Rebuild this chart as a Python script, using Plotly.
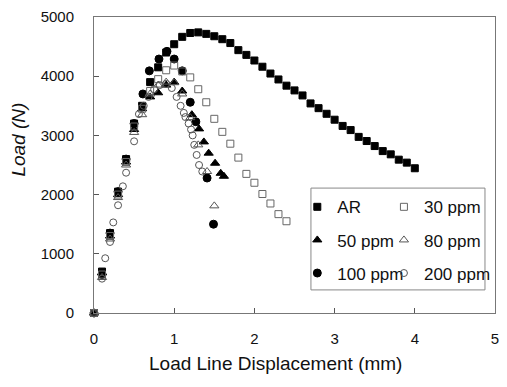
import plotly.graph_objects as go

# ---- data (Load Line Displacement in mm, Load in N) ----
ar_x = [0, 0.1, 0.2, 0.3, 0.4, 0.5, 0.6, 0.7, 0.8, 0.9, 1.0, 1.1, 1.2, 1.3, 1.4, 1.5, 1.6, 1.7, 1.8, 1.9,
        2.0, 2.1, 2.2, 2.3, 2.4, 2.5, 2.6, 2.7, 2.8, 2.9, 3.0, 3.1, 3.2, 3.3, 3.4, 3.5, 3.6, 3.7, 3.8, 3.9, 4.0]
ar_y = [0, 700, 1350, 2050, 2600, 3200, 3500, 3900, 4150, 4400, 4540, 4665, 4730, 4740, 4715, 4675, 4625,
        4560, 4440, 4360, 4265, 4160, 4045, 3945, 3840, 3760, 3675, 3540, 3460, 3365, 3265, 3160, 3090,
        2975, 2905, 2820, 2735, 2680, 2590, 2540, 2445]

p30_x = [0, 0.1, 0.2, 0.3, 0.4, 0.5, 0.6, 0.7, 0.8, 0.9, 1.0, 1.1, 1.2, 1.3, 1.4, 1.5, 1.6, 1.7, 1.8, 1.9,
         2.0, 2.1, 2.2, 2.3, 2.4]
p30_y = [0, 650, 1300, 2000, 2550, 3150, 3450, 3750, 3950, 4100, 4180, 4080, 3980, 3780, 3560, 3280, 3060,
         2860, 2625, 2350, 2200, 2010, 1850, 1670, 1550]

p50_x = [0, 0.1, 0.2, 0.3, 0.4, 0.5, 0.6, 0.7, 0.8, 0.9, 1.0, 1.1, 1.22, 1.31, 1.37, 1.43, 1.51, 1.58, 1.62]
p50_y = [0, 680, 1300, 2000, 2550, 3100, 3450, 3650, 3720, 3850, 3900, 3750, 3350, 3110, 2890, 2700, 2530,
         2360, 2310]

p80_x = [0, 0.1, 0.2, 0.3, 0.4, 0.5, 0.6, 0.7, 0.8, 0.9, 1.0, 1.1, 1.2, 1.3, 1.41, 1.5]
p80_y = [0, 600, 1250, 1950, 2500, 3050, 3350, 3700, 3850, 3900, 3890, 3700, 3300, 2840, 2390, 1810]

p100_x = [0, 0.1, 0.2, 0.3, 0.4, 0.5, 0.61, 0.69, 0.81, 0.91, 1.0, 1.1, 1.2, 1.27, 1.41, 1.49]
p100_y = [0, 650, 1350, 2050, 2600, 3200, 3700, 4090, 4290, 4420, 4290, 4090, 3560, 3230, 2280, 1500]

p200_x = [0, 0.1, 0.14, 0.2, 0.24, 0.3, 0.36, 0.4, 0.5, 0.56, 0.62, 0.68, 0.75, 0.82, 0.9, 0.97, 1.03,
          1.08, 1.12, 1.14, 1.18, 1.21, 1.23, 1.25, 1.28, 1.31, 1.35]
p200_y = [0, 580, 925, 1200, 1530, 1820, 2140, 2370, 2900, 3360, 3500, 3650, 3780, 3850, 3870, 3800, 3650,
          3500, 3380, 3310, 3200, 3100, 3000, 2840, 2670, 2500, 2390]

x_ticks = [0, 1, 2, 3, 4, 5]
y_ticks = [0, 1000, 2000, 3000, 4000, 5000]

FONT = "Liberation Sans, Arial, sans-serif"

series = [
    ("AR", ar_x, ar_y, "square", "black", 7, "legend"),
    ("50 ppm", p50_x, p50_y, "triangle-up", "black", 8, "legend"),
    ("100 ppm", p100_x, p100_y, "circle", "black", 8, "legend"),
    ("30 ppm", p30_x, p30_y, "square-open", "#666", 7, "legend2"),
    ("80 ppm", p80_x, p80_y, "triangle-up-open", "#555", 8, "legend2"),
    ("200 ppm", p200_x, p200_y, "circle-open", "#555", 7, "legend2"),
]

fig = go.Figure()
for name, xs, ys, sym, col, size, leg in series:
    fig.add_trace(go.Scatter(
        x=xs, y=ys, mode="markers", name=name, legend=leg, legendgroup=name,
        marker=dict(symbol=sym, color=col, size=size, line=dict(color=col, width=1)),
        cliponaxis=False,
    ))

# legend box
fig.add_shape(type="rect", xref="paper", yref="paper", x0=0.541, x1=0.975, y0=0.078, y1=0.422,
              line=dict(color="#888", width=1))

legend_common = dict(bgcolor="rgba(0,0,0,0)", borderwidth=0, font=dict(family=FONT, size=17, color="#111"),
                     tracegroupgap=8, itemwidth=30, yanchor="top", xanchor="left", y=0.418)

fig.update_layout(
    width=507, height=387,
    margin=dict(l=94, r=8, t=14, b=74),
    plot_bgcolor="white", paper_bgcolor="white",
    showlegend=True,
    legend=dict(x=0.507, **legend_common),
    legend2=dict(x=0.723, **legend_common),
    font=dict(family=FONT, color="#111"),
    xaxis=dict(range=[0, 5], tickvals=x_ticks, ticks="inside", ticklen=5, tickcolor="#555",
               showline=True, mirror=True, linecolor="#777", linewidth=1, showgrid=False, zeroline=False,
               tickfont=dict(size=15, color="#111"), ticklabelstandoff=12),
    yaxis=dict(range=[0, 5000], tickvals=y_ticks, ticks="inside", ticklen=5, tickcolor="#555",
               showline=True, mirror=True, linecolor="#777", linewidth=1, showgrid=False, zeroline=False,
               tickfont=dict(size=15, color="#111"), ticklabelstandoff=16),
    annotations=[
        dict(text="Load Line Displacement (mm)", xref="paper", yref="paper", x=(277 - 94) / 405,
             y=(313.5 - 365) / 300, showarrow=False, font=dict(size=19, family=FONT, color="#111"),
             xanchor="center", yanchor="middle"),
        dict(text="<i>Load (N)</i>", xref="paper", yref="paper", x=(18 - 94) / 405,
             y=(313.5 - 138) / 300, showarrow=False, textangle=-90,
             font=dict(size=19, family=FONT, color="#111"), xanchor="center", yanchor="middle"),
    ],
)

fig.write_html("out.html")
